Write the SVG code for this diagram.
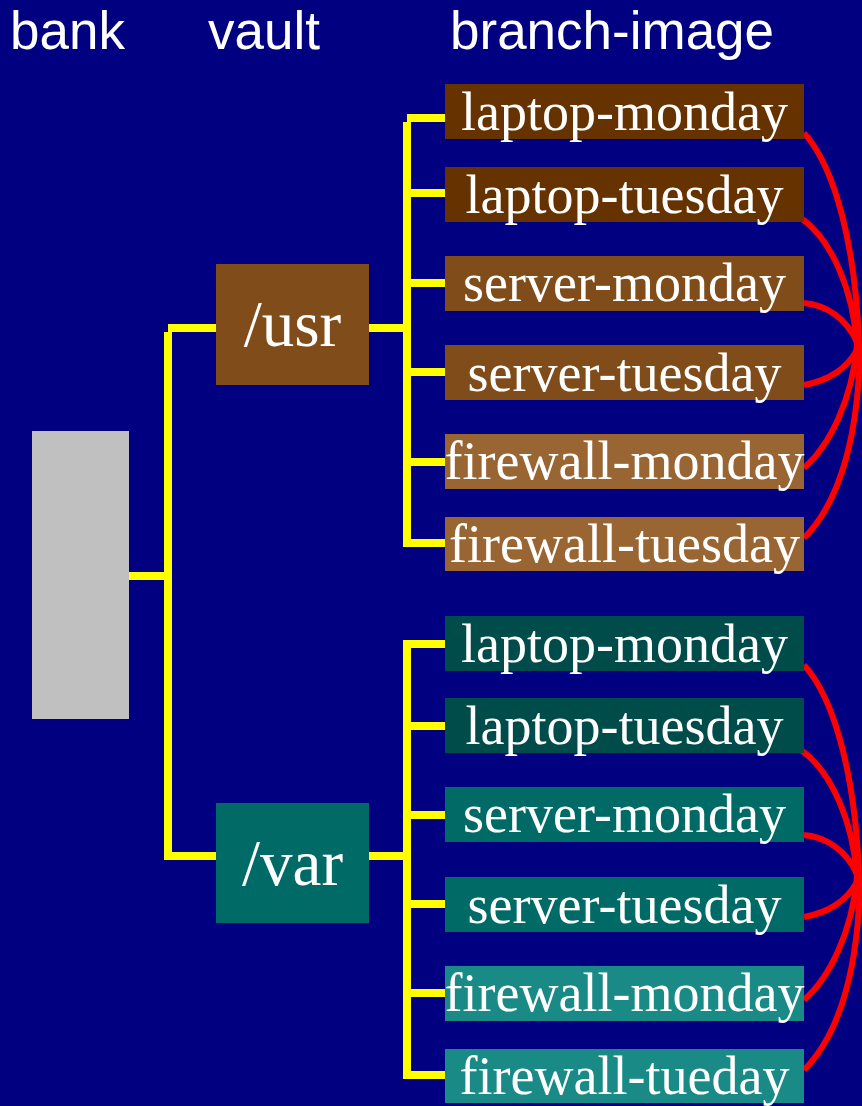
<svg xmlns="http://www.w3.org/2000/svg" width="862" height="1106" viewBox="0 0 862 1106">
  <defs>
    <style>
      .title { font-family: "Liberation Sans", Arial, sans-serif; font-size: 53px; fill: #ffffff; }
      .lbl { font-family: "Liberation Serif", "Times New Roman", serif; font-size: 54px; fill: #ffffff; text-anchor: middle; }
      .vlbl { font-family: "Liberation Serif", "Times New Roman", serif; font-size: 65px; fill: #ffffff; text-anchor: middle; }
      .tree { fill: none; stroke: #ffff00; stroke-width: 8; stroke-linecap: butt; }
      .link { fill: none; stroke: #ff0000; stroke-width: 6; }
      .u-laptop { fill: #663300; }
      .u-server { fill: #7f4c1a; }
      .u-fw { fill: #996633; }
      .v-laptop { fill: #004c4a; }
      .v-server { fill: #006b66; }
      .v-fw { fill: #1a8a86; }
    </style>
  </defs>

  <!-- background -->
  <rect x="0" y="0" width="862" height="1106" fill="#000080"/>

  <!-- column headings -->
  <text class="title" x="10" y="49">bank</text>
  <text class="title" x="208" y="49">vault</text>
  <text class="title" x="450" y="49">branch-image</text>

  <!-- tree connectors -->
  <g id="connectors">
    <!-- bank to vaults -->
    <path class="tree" d="M129,576 H168"/>
    <path class="tree" d="M168,332 V860"/>
    <path class="tree" d="M168,328 H216"/>
    <path class="tree" d="M168,856 H216"/>
    <!-- /usr to its branch images -->
    <path class="tree" d="M369,328 H407"/>
    <path class="tree" d="M407,122 V547"/>
    <path class="tree" d="M407,118 H445"/>
    <path class="tree" d="M407,193 H445"/>
    <path class="tree" d="M407,283 H445"/>
    <path class="tree" d="M407,372 H445"/>
    <path class="tree" d="M407,462 H445"/>
    <path class="tree" d="M407,543 H445"/>
    <!-- /var to its branch images -->
    <path class="tree" d="M369,856 H407"/>
    <path class="tree" d="M407,640 V1079"/>
    <path class="tree" d="M407,644 H445"/>
    <path class="tree" d="M407,726 H445"/>
    <path class="tree" d="M407,815 H445"/>
    <path class="tree" d="M407,904 H445"/>
    <path class="tree" d="M407,993 H445"/>
    <path class="tree" d="M407,1075 H445"/>

    <!-- links between the /usr branch images -->
    <g id="usr-links">
      <path class="link" d="M804,133 C836,168 856,250 859,345"/>
      <path class="link" d="M801,218 C832,240 853,290 857,345"/>
      <path class="link" d="M804,303 C826,305 846,318 857,342"/>
      <path class="link" d="M804,385 C826,381 846,370 857,350"/>
      <path class="link" d="M804,468 C830,445 852,400 857,345"/>
      <path class="link" d="M804,538 C842,500 859,430 860,345"/>
    </g>
    <!-- links between the /var branch images -->
    <g id="var-links" transform="translate(0,532)">
      <path class="link" d="M804,133 C836,168 856,250 859,345"/>
      <path class="link" d="M801,218 C832,240 853,290 857,345"/>
      <path class="link" d="M804,303 C826,305 846,318 857,342"/>
      <path class="link" d="M804,385 C826,381 846,370 857,350"/>
      <path class="link" d="M804,468 C830,445 852,400 857,345"/>
      <path class="link" d="M804,538 C842,500 859,430 860,345"/>
    </g>
  </g>

  <!-- bank -->
  <g id="bank">
    <rect x="32" y="431" width="97" height="288" fill="#c0c0c0"/>
  </g>

  <!-- vaults -->
  <g id="vault-usr">
    <rect x="216" y="264" width="153" height="121" fill="#7f4c1a"/>
    <text class="vlbl" x="292.5" y="346">/usr</text>
  </g>
  <g id="vault-var">
    <rect x="216" y="803" width="153" height="120" fill="#006b66"/>
    <text class="vlbl" x="292.5" y="885">/var</text>
  </g>

  <!-- /usr branch images -->
  <g id="usr-laptop-monday">
    <rect class="u-laptop" x="445" y="84" width="359" height="55"/>
    <text class="lbl" x="624.5" y="130">laptop-monday</text>
  </g>
  <g id="usr-laptop-tuesday">
    <rect class="u-laptop" x="445" y="167" width="359" height="55"/>
    <text class="lbl" x="624.5" y="213">laptop-tuesday</text>
  </g>
  <g id="usr-server-monday">
    <rect class="u-server" x="445" y="256" width="359" height="55"/>
    <text class="lbl" x="624.5" y="301">server-monday</text>
  </g>
  <g id="usr-server-tuesday">
    <rect class="u-server" x="445" y="345" width="359" height="55"/>
    <text class="lbl" x="624.5" y="391">server-tuesday</text>
  </g>
  <g id="usr-firewall-monday">
    <rect class="u-fw" x="445" y="434" width="359" height="55"/>
    <text class="lbl" x="624.5" y="479">firewall-monday</text>
  </g>
  <g id="usr-firewall-tuesday">
    <rect class="u-fw" x="445" y="517" width="359" height="54"/>
    <text class="lbl" x="624.5" y="562">firewall-tuesday</text>
  </g>

  <!-- /var branch images -->
  <g id="var-laptop-monday">
    <rect class="v-laptop" x="445" y="616" width="359" height="55"/>
    <text class="lbl" x="624.5" y="662">laptop-monday</text>
  </g>
  <g id="var-laptop-tuesday">
    <rect class="v-laptop" x="445" y="698" width="359" height="55"/>
    <text class="lbl" x="624.5" y="744">laptop-tuesday</text>
  </g>
  <g id="var-server-monday">
    <rect class="v-server" x="445" y="787" width="359" height="55"/>
    <text class="lbl" x="624.5" y="832">server-monday</text>
  </g>
  <g id="var-server-tuesday">
    <rect class="v-server" x="445" y="877" width="359" height="55"/>
    <text class="lbl" x="624.5" y="923">server-tuesday</text>
  </g>
  <g id="var-firewall-monday">
    <rect class="v-fw" x="445" y="966" width="359" height="55"/>
    <text class="lbl" x="624.5" y="1011">firewall-monday</text>
  </g>
  <g id="var-firewall-tueday">
    <rect class="v-fw" x="445" y="1049" width="359" height="54"/>
    <text class="lbl" x="624.5" y="1094">firewall-tueday</text>
  </g>
</svg>
